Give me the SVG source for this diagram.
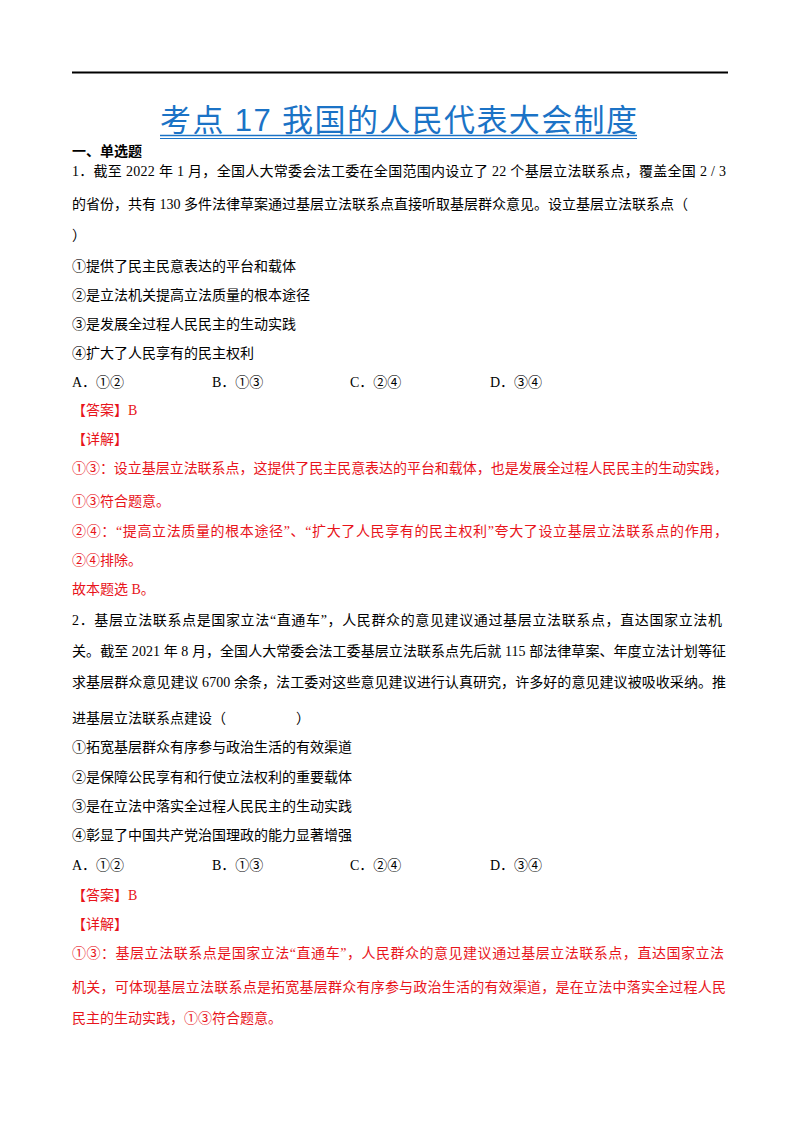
<svg xmlns="http://www.w3.org/2000/svg" width="800" height="1132" viewBox="0 0 800 1132">
<style>
text{font-family:"Liberation Serif","Noto Sans CJK SC",serif;font-size:14px;fill:#000}
.r{fill:#e8141b}
.b{font-weight:bold}
.t{font-family:"Liberation Sans","Noto Sans CJK SC",sans-serif;font-size:31px;fill:#1b73c6}
</style>
<rect width="800" height="1132" fill="#fff"/>
<line x1="72" y1="72.5" x2="728" y2="72.5" stroke="#000" stroke-width="2"/>
<text class="t" x="160" y="131" textLength="477" lengthAdjust="spacing">考点 17  我国的人民代表大会制度</text>
<line x1="160" y1="135.5" x2="637" y2="135.5" stroke="#1b73c6" stroke-width="1.5"/>
<line x1="160" y1="138.5" x2="637" y2="138.5" stroke="#1b73c6" stroke-width="1"/>
<text class="b" x="72" y="156">一、单选题</text>
<text x="72" y="176" textLength="654" lengthAdjust="spacing">1．截至 2022 年 1 月，全国人大常委会法工委在全国范围内设立了 22 个基层立法联系点，覆盖全国 2 / 3</text>
<text x="72" y="209" textLength="616" lengthAdjust="spacing">的省份，共有 130 多件法律草案通过基层立法联系点直接听取基层群众意见。设立基层立法联系点（</text>
<text x="72" y="240">）</text>
<text x="72" y="271">①提供了民主民意表达的平台和载体</text>
<text x="72" y="300">②是立法机关提高立法质量的根本途径</text>
<text x="72" y="329">③是发展全过程人民民主的生动实践</text>
<text x="72" y="358">④扩大了人民享有的民主权利</text>
<text x="72" y="387">A．①②</text><text x="212" y="387">B．①③</text><text x="350" y="387">C．②④</text><text x="490" y="387">D．③④</text>
<text class="r" x="72" y="415">【答案】B</text>
<text class="r" x="72" y="444">【详解】</text>
<text class="r" x="72" y="473" textLength="656" lengthAdjust="spacing">①③：设立基层立法联系点，这提供了民主民意表达的平台和载体，也是发展全过程人民民主的生动实践，</text>
<text class="r" x="72" y="506">①③符合题意。</text>
<text class="r" x="72" y="536" textLength="656" lengthAdjust="spacing">②④：“提高立法质量的根本途径”、“扩大了人民享有的民主权利”夸大了设立基层立法联系点的作用，</text>
<text class="r" x="72" y="565">②④排除。</text>
<text class="r" x="72" y="594">故本题选 B。</text>
<text x="72" y="625" textLength="650" lengthAdjust="spacing">2．基层立法联系点是国家立法“直通车”，人民群众的意见建议通过基层立法联系点，直达国家立法机</text>
<text x="72" y="656" textLength="654" lengthAdjust="spacing">关。截至 2021 年 8 月，全国人大常委会法工委基层立法联系点先后就 115 部法律草案、年度立法计划等征</text>
<text x="72" y="687" textLength="654" lengthAdjust="spacing">求基层群众意见建议 6700 余条，法工委对这些意见建议进行认真研究，许多好的意见建议被吸收采纳。推</text>
<text x="72" y="723">进基层立法联系点建设（</text><text x="296" y="723">）</text>
<text x="72" y="752">①拓宽基层群众有序参与政治生活的有效渠道</text>
<text x="72" y="782">②是保障公民享有和行使立法权利的重要载体</text>
<text x="72" y="811">③是在立法中落实全过程人民民主的生动实践</text>
<text x="72" y="840">④彰显了中国共产党治国理政的能力显著增强</text>
<text x="72" y="870">A．①②</text><text x="212" y="870">B．①③</text><text x="350" y="870">C．②④</text><text x="490" y="870">D．③④</text>
<text class="r" x="72" y="900">【答案】B</text>
<text class="r" x="72" y="929">【详解】</text>
<text class="r" x="72" y="958" textLength="652" lengthAdjust="spacing">①③：基层立法联系点是国家立法“直通车”，人民群众的意见建议通过基层立法联系点，直达国家立法</text>
<text class="r" x="72" y="992" textLength="654" lengthAdjust="spacing">机关，可体现基层立法联系点是拓宽基层群众有序参与政治生活的有效渠道，是在立法中落实全过程人民</text>
<text class="r" x="72" y="1023">民主的生动实践，①③符合题意。</text>
</svg>
